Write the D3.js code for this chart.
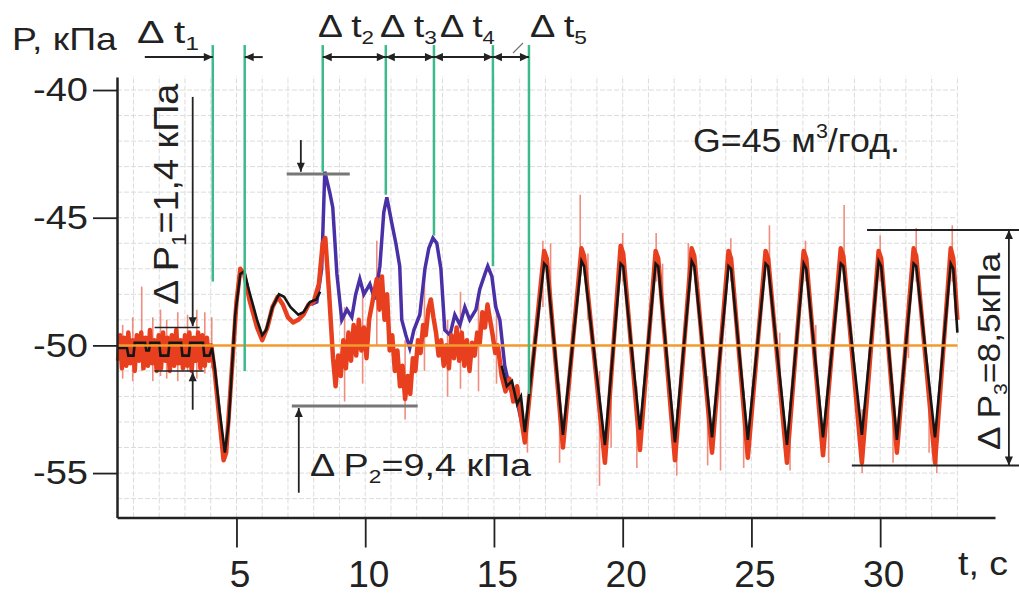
<!DOCTYPE html>
<html>
<head>
<meta charset="utf-8">
<script src="https://cdn.jsdelivr.net/npm/d3@7"></script>
<style>
  body { margin: 0; background: #fff; }
  text { font-family: "Liberation Sans", Arial, sans-serif; fill: #222; }
</style>
</head>
<body>
<svg id="chart" width="1019" height="601"></svg>
<script>
// pressure P (kPa) vs time t (s)
var yTicks = [-55, -50, -45, -40];
var xTicks = [5, 10, 15, 20, 25, 30];

// black trace: start section, gap, oscillation section
var blackSeries = [
  [0.40,-50.1],[0.75,-50.1],[0.80,-50.4],[1.00,-50.4],[1.05,-49.9],[1.45,-49.9],[1.50,-50.2],
  [1.60,-50.2],[1.65,-49.9],[2.00,-49.9],[2.05,-50.4],[2.35,-50.4],[2.40,-49.9],[2.85,-49.9],
  [2.90,-50.4],[3.15,-50.4],[3.20,-49.9],[3.70,-49.9],[3.75,-50.4],[3.95,-50.4],[4.05,-50.1],
  [4.15,-50.8],[4.35,-52.6],[4.55,-54.2],[4.70,-53.0],[4.95,-48.8],[5.15,-47.2],[5.30,-47.1],
  [5.50,-47.9],[5.80,-49.0],[6.00,-49.6],[6.15,-49.4],[6.40,-48.5],[6.65,-48.0],[6.85,-48.1],
  [7.10,-48.5],[7.40,-48.8],[7.60,-48.7],[7.85,-48.3],[8.10,-48.2],[8.25,-47.9],
  [8.30,null],
  [15.30,-50.8],[15.50,-51.6],[15.70,-51.4],[15.90,-52.3],[16.05,-52.0],[16.20,-53.4],
  [16.95,-46.8],[17.05,-46.9],[17.68,-53.5],[18.40,-46.7],[18.50,-46.9],[19.31,-53.9],
  [19.92,-46.8],[20.02,-46.9],[20.67,-53.3],[21.28,-46.8],[21.38,-46.9],[22.03,-53.8],
  [22.68,-46.7],[22.78,-46.9],[23.47,-53.6],[24.11,-46.9],[24.21,-47.0],[24.86,-53.7],
  [25.55,-46.8],[25.65,-46.9],[26.38,-53.9],[27.03,-46.8],[27.13,-47.0],[27.78,-53.6],
  [28.47,-46.8],[28.57,-46.9],[29.29,-53.5],[29.94,-46.7],[30.04,-46.9],[30.65,-53.7],
  [31.30,-46.8],[31.40,-46.9],[32.13,-53.6],[32.74,-46.8],[32.84,-47.0],[33.00,-49.5]
];

// blue trace, visible where it leaves the others (8..16 s)
var blueSeries = [
  [7.90,-48.4],[8.12,-48.3],[8.31,-47.0],[8.43,-43.2],[8.62,-44.0],[8.74,-44.6],[8.90,-47.2],
  [9.09,-49.0],[9.29,-48.6],[9.48,-48.9],[9.63,-48.0],[9.79,-47.4],[9.95,-48.0],[10.18,-47.6],
  [10.37,-48.2],[10.57,-46.9],[10.72,-44.8],[10.84,-44.2],[11.03,-45.2],[11.19,-46.0],
  [11.34,-46.9],[11.42,-49.0],[11.58,-49.6],[11.73,-50.1],[11.89,-49.4],[12.12,-48.8],
  [12.32,-47.0],[12.47,-46.2],[12.63,-45.8],[12.78,-46.0],[12.94,-47.0],[13.09,-49.4],
  [13.29,-49.6],[13.48,-48.8],[13.68,-49.2],[13.87,-48.5],[14.06,-49.0],[14.30,-48.6],
  [14.45,-47.8],[14.65,-47.2],[14.76,-46.9],[14.92,-47.3],[15.07,-48.5],[15.23,-49.0],
  [15.42,-50.8],[15.62,-51.7],[15.90,-52.2],[16.20,-53.6]
];

// red trace (noisy)
var redSeries = [
  [0.40,-50.6],[0.48,-49.6],[0.55,-50.9],[0.63,-49.7],[0.72,-50.8],[0.80,-49.5],[0.88,-50.7],
  [0.97,-49.8],[1.05,-51.0],[1.13,-49.6],[1.22,-50.6],[1.30,-49.5],[1.39,-50.9],[1.47,-49.7],
  [1.56,-50.8],[1.64,-49.4],[1.73,-50.7],[1.81,-49.8],[1.90,-51.0],[1.98,-49.6],[2.07,-50.9],
  [2.15,-49.5],[2.24,-50.6],[2.32,-49.7],[2.41,-51.0],[2.49,-49.6],[2.58,-50.8],[2.66,-49.4],
  [2.75,-50.7],[2.83,-49.8],[2.92,-50.9],[3.00,-49.6],[3.09,-50.8],[3.17,-49.5],[3.26,-51.0],
  [3.34,-49.7],[3.43,-50.6],[3.51,-49.5],[3.60,-50.9],[3.68,-49.6],[3.77,-50.8],[3.85,-49.7],
  [3.94,-50.6],[4.02,-50.0],[4.15,-51.0],[4.35,-53.0],[4.50,-54.5],[4.60,-54.2],[4.75,-52.0],
  [5.00,-48.3],[5.15,-47.0],[5.30,-47.2],[5.50,-48.2],[5.80,-49.3],[6.00,-49.8],[6.20,-49.3],
  [6.40,-48.5],[6.60,-48.1],[6.80,-48.4],[7.00,-48.9],[7.20,-49.1],[7.40,-49.0],[7.60,-48.8],
  [7.80,-48.4],[8.00,-48.3],[8.20,-47.6],[8.35,-46.0],[8.45,-45.8],[8.60,-48.0],[8.75,-50.5],
  [8.85,-51.6],[8.95,-50.4],[9.05,-51.2],[9.15,-49.8],[9.25,-50.9],[9.35,-49.5],[9.45,-50.6],
  [9.55,-49.2],[9.65,-50.4],[9.75,-49.0],[9.85,-50.2],[9.95,-49.3],[10.05,-50.5],[10.15,-49.0],
  [10.30,-48.2],[10.45,-47.4],[10.55,-48.6],[10.65,-47.3],[10.75,-49.0],[10.85,-48.0],
  [10.95,-50.2],[11.05,-49.6],[11.15,-51.0],[11.25,-50.2],[11.35,-51.6],[11.45,-50.8],
  [11.55,-52.1],[11.65,-51.2],[11.75,-51.9],[11.85,-50.5],[11.95,-51.0],[12.05,-49.8],
  [12.15,-50.3],[12.25,-49.2],[12.35,-49.6],[12.45,-48.6],[12.55,-48.2],[12.65,-48.9],
  [12.75,-49.5],[12.85,-50.4],[12.95,-49.8],[13.05,-50.8],[13.15,-50.0],[13.25,-50.9],
  [13.35,-49.6],[13.45,-50.5],[13.55,-49.3],[13.65,-50.6],[13.75,-49.5],[13.85,-50.8],
  [13.95,-49.8],[14.05,-51.0],[14.15,-49.9],[14.25,-50.4],[14.35,-49.5],[14.45,-49.9],
  [14.55,-48.7],[14.65,-49.3],[14.75,-48.4],[14.85,-49.0],[14.95,-49.6],[15.05,-50.3],
  [15.15,-50.0],[15.30,-51.2],[15.45,-51.8],[15.60,-51.3],[15.75,-52.2],[15.90,-51.6],
  [16.05,-52.8],[16.20,-53.8],[16.95,-46.3],[17.05,-46.6],[17.68,-54.0],[18.40,-46.2],
  [18.50,-46.5],[19.31,-54.6],[19.92,-46.1],[20.02,-46.4],[20.67,-54.1],[21.28,-46.3],
  [21.38,-46.6],[22.03,-54.5],[22.68,-46.2],[22.78,-46.5],[23.47,-54.2],[24.11,-46.3],
  [24.21,-46.6],[24.86,-54.4],[25.55,-46.3],[25.65,-46.6],[26.38,-54.6],[27.03,-46.3],
  [27.13,-46.6],[27.78,-54.3],[28.47,-46.2],[28.57,-46.5],[29.29,-54.6],[29.94,-46.3],
  [30.04,-46.6],[30.65,-54.2],[31.30,-46.2],[31.40,-46.5],[32.13,-54.6],[32.74,-46.2],
  [32.84,-46.6],[33.00,-49.0]
];

// thin noise spikes: [t, top, bottom]
var spikes = [
  [0.58,-49.2,-51.3],[0.97,-48.9,-51.4],[1.32,-47.7,-51.0],[1.75,-48.9,-51.4],[2.05,-48.6,-51.2],
  [2.29,-49.0,-51.3],[2.72,-48.7,-51.4],[3.10,-48.8,-51.0],[3.46,-48.6,-51.3],[3.77,-48.7,-51.1],
  [4.04,-48.9,-50.9],[9.20,-48.5,-52.2],[9.90,-47.9,-51.5],[10.45,-45.9,-50.0],[11.55,-49.8,-52.9],
  [12.30,-47.4,-51.0],[13.20,-49.0,-52.0],[13.70,-47.9,-51.7],[14.40,-48.0,-51.8],[15.10,-48.4,-51.5],
  [16.30,-52.0,-54.2],[16.90,-45.9,-48.5],[17.20,-46.0,-48.8],[17.55,-51.5,-54.6],[18.35,-44.1,-47.5],
  [18.65,-46.4,-49.0],[19.10,-51.0,-55.5],[19.55,-51.8,-54.0],[20.00,-45.6,-47.5],[20.55,-51.6,-54.8],
  [21.30,-45.6,-47.5],[21.55,-46.8,-49.5],[22.10,-52.5,-55.1],[22.55,-46.0,-48.4],[23.30,-51.2,-54.7],
  [23.80,-51.0,-54.9],[24.20,-45.8,-47.5],[24.70,-51.8,-54.8],[25.70,-45.3,-47.5],[26.10,-49.5,-51.9],
  [26.50,-52.2,-54.9],[27.10,-45.9,-47.5],[27.50,-49.2,-51.4],[28.00,-52.0,-54.6],[28.60,-44.5,-47.5],
  [29.30,-52.5,-55.0],[30.00,-45.7,-47.5],[30.50,-51.5,-54.6],[31.10,-48.0,-50.5],[31.40,-45.4,-47.5],
  [31.90,-51.3,-54.2],[32.20,-52.6,-55.0],[32.80,-45.3,-47.5]
];

// green time markers (t) and where each one stops (P)
var markT = [4.08, 5.32, 8.35, 10.80, 12.67, 14.96, 16.36];
var markP = [-47.5, -51.0, -43.2, -44.1, -45.7, -46.9, -51.9];
var dtNames = ["1", "2", "3", "4", "5"];

var svg = d3.select("#chart");
var x = d3.scaleLinear().domain([0.36, 34.46]).range([117, 995]);
var y = d3.scaleLinear().domain([-56.74, -39.49]).range([517.5, 77]);

var defs = svg.append("defs");
defs.append("marker").attr("id", "arr")
  .attr("viewBox", "0 0 10 10").attr("refX", 10).attr("refY", 5)
  .attr("markerWidth", 13).attr("markerHeight", 9)
  .attr("markerUnits", "userSpaceOnUse").attr("orient", "auto-start-reverse")
  .append("path").attr("d", "M0,0.5L10,5L0,9.5Z").attr("fill", "#222");

// grid
var grid = svg.append("g").attr("stroke", "#dcdcdc").attr("stroke-width", 1).attr("stroke-dasharray", "5,2");
grid.selectAll(".gx").data(d3.range(1, 34)).enter().append("line")
  .attr("x1", function(d) { return x(d); }).attr("x2", function(d) { return x(d); })
  .attr("y1", y(-56.74)).attr("y2", y(-39.45));
grid.selectAll(".gy").data(d3.range(-56, -39)).enter().append("line")
  .attr("x1", x(0.36)).attr("x2", x(33.0))
  .attr("y1", function(d) { return y(d); }).attr("y2", function(d) { return y(d); });

var line = d3.line()
  .defined(function(d) { return d[1] !== null; })
  .x(function(d) { return x(d[0]); })
  .y(function(d) { return y(d[1]); });

svg.append("g").selectAll("line").data(spikes).enter().append("line")
  .attr("x1", function(d) { return x(d[0]); }).attr("x2", function(d) { return x(d[0]); })
  .attr("y1", function(d) { return y(d[1]); }).attr("y2", function(d) { return y(d[2]); })
  .attr("stroke", "#ee7a68").attr("stroke-width", 1.6).attr("opacity", 0.85);

svg.append("path").datum(blueSeries).attr("d", line)
  .attr("fill", "none").attr("stroke", "#4a30a6").attr("stroke-width", 3.5);
svg.append("path").datum(redSeries).attr("d", line)
  .attr("fill", "none").attr("stroke", "#e8401e").attr("stroke-width", 4.5).attr("stroke-linejoin", "round");
svg.append("path").datum(blackSeries).attr("d", line)
  .attr("fill", "none").attr("stroke", "#151515").attr("stroke-width", 2.6);

// reference level
svg.append("line").attr("x1", x(0.36)).attr("x2", x(33.0)).attr("y1", y(-50)).attr("y2", y(-50))
  .attr("stroke", "#f39a2c").attr("stroke-width", 2.5);

// green markers
svg.append("g").selectAll("line").data(markT).enter().append("line")
  .attr("x1", function(d) { return x(d); }).attr("x2", function(d) { return x(d); })
  .attr("y1", y(-38.24)).attr("y2", function(d, i) { return y(markP[i]); })
  .attr("stroke", "#3dba8c").attr("stroke-width", 2.5);

// axes
var yAxis = svg.append("g").attr("transform", "translate(" + x(0.36) + ",0)")
  .call(d3.axisLeft(y).tickValues(yTicks).tickSize(24).tickSizeOuter(0).tickPadding(5)
    .tickFormat(function(d) { return String(d); }));
yAxis.selectAll("text").attr("font-size", 34).attr("font-family", null)
  .attr("transform", function() { return "translate(" + d3.select(this).attr("x") + ",0) scale(1.12,1)"; })
  .attr("x", 0);

var xAxis = svg.append("g").attr("transform", "translate(0," + y(-56.74) + ")")
  .call(d3.axisBottom(x).tickValues(xTicks).tickSize(30).tickSizeOuter(0).tickPadding(13));
xAxis.selectAll("text").attr("font-size", 37).attr("font-family", null).attr("dx", 3);

svg.selectAll(".domain, .tick line").attr("stroke", "#222").attr("stroke-width", 2.5);
svg.selectAll(".tick line").attr("stroke-width", 1.8);

// text helper: parts = [[string, "sub"|"sup"|undefined]], stretched to a width
function fitText(parts, size, tx, ty, width, rot) {
  var g = svg.append("g");
  var t = g.append("text").attr("font-size", size);
  var shift = 0;
  parts.forEach(function(p) {
    var s = t.append("tspan").text(p[0]);
    var want = p[1] === "sub" ? size * 0.22 : (p[1] === "sup" ? -size * 0.42 : 0);
    if (p[1]) s.attr("font-size", size * 0.6);
    if (want !== shift) { s.attr("dy", want - shift); shift = want; }
  });
  var w = t.node().getBBox().width;
  g.attr("transform", "translate(" + tx + "," + ty + ")" + (rot ? " rotate(" + rot + ")" : "") +
    " scale(" + (width / w) + ",1)");
}

fitText([["P, кПа"]], 32, 12, 50, 105);
fitText([["t, с"]], 33, 958, 575, 50);
fitText([["G=45 м"], ["3", "sup"], ["/год."]], 33, 693, 152, 207);

var dtPos = [[137, 43, 62], [318, 37, 56], [380, 37, 57], [440, 37, 55], [530, 37, 57]];
dtNames.forEach(function(n, i) {
  fitText([["Δ t"], [n, "sub"]], 32, dtPos[i][0], dtPos[i][1], dtPos[i][2]);
});

fitText([["Δ P"], ["1", "sub"], ["=1,4 кПа"]], 35, 178, 305, 222, -90);
fitText([["Δ P"], ["2", "sub"], ["=9,4 кПа"]], 31, 310, 476, 222);
fitText([["Δ P"], ["3", "sub"], ["=8,5кПа"]], 31, 1000, 450, 198, -90);

// annotation lines and arrows
var ann = svg.append("g").attr("stroke", "#222").attr("stroke-width", 2).attr("fill", "none");
function seg(t1, p1, t2, p2, head, color, w) {
  var l = ann.append("line").attr("x1", x(t1)).attr("y1", y(p1)).attr("x2", x(t2)).attr("y2", y(p2));
  if (head === "end" || head === "both") l.attr("marker-end", "url(#arr)");
  if (head === "both") l.attr("marker-start", "url(#arr)");
  if (color) l.attr("stroke", color);
  if (w) l.attr("stroke-width", w);
  return l;
}
var arrowP = -38.71;
seg(1.44, arrowP, markT[0], arrowP, "end");
seg(6.02, arrowP, markT[1], arrowP, "end");
for (var i = 2; i < markT.length - 1; i++) seg(markT[i], arrowP, markT[i + 1], arrowP, "both");
ann.append("line").attr("x1", 513).attr("y1", 53).attr("x2", 523).attr("y2", 43)
  .attr("stroke", "#777").attr("stroke-width", 1.2);

// dP1
seg(1.82, -49.3, 3.57, -49.3, null, null, 1.5);
seg(1.82, -51.0, 3.73, -51.0, null, null, 1.5);
seg(3.30, -40.27, 3.30, -49.25, "end", null, 1.8);
seg(3.30, -52.52, 3.30, -51.05, "end", null, 1.8);

// dP2
seg(6.95, -43.29, 9.40, -43.29, null, "#777", 3);
seg(7.15, -52.37, 12.04, -52.37, null, "#777", 3);
seg(7.50, -41.96, 7.50, -43.2, "end", null, 1.8);
seg(7.42, -55.77, 7.42, -52.45, "end", null, 1.8);

// dP3
seg(29.49, -45.48, 35.4, -45.48, null, null, 2);
seg(28.90, -54.70, 35.4, -54.70, null, null, 2);
seg(35.0, -45.48, 35.0, -54.70, "both", null, 1.8);
</script>
</body>
</html>
